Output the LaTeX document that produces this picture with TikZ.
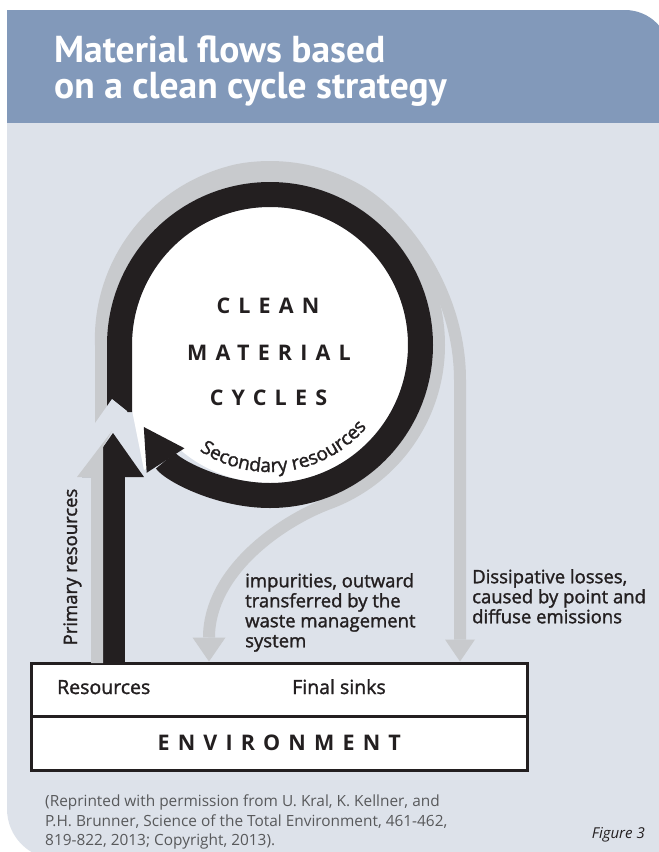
\documentclass[tikz,border=0pt]{standalone}
\usepackage{fontspec}
\setmainfont{Open Sans}
\newfontfamily\headfont{PT Sans}
\newfontfamily\semifont{Open Sans}[FakeBold=1.5]
\usetikzlibrary{arrows.meta}
\usetikzlibrary{decorations.text}
\definecolor{headblue}{RGB}{130,153,186}
\definecolor{panel}{RGB}{221,226,234}
\definecolor{flow}{RGB}{200,202,205}
\definecolor{ink}{RGB}{35,31,32}
\definecolor{cite}{RGB}{88,89,91}
\newcommand{\tracked}[1]{{\addfontfeature{LetterSpace=38}#1}}

\begin{document}
\begin{tikzpicture}[x=1pt,y=-1pt,
    flowtext/.style={font=\semifont\fontsize{18.5}{20}\selectfont,text=ink,inner sep=0pt,align=left},
    boxtext/.style={font=\semifont\fontsize{19.5}{20}\selectfont,text=ink,inner sep=0pt},
    caps/.style={font=\fontsize{21.5}{24}\selectfont\bfseries,text=ink,inner sep=0pt},
    envbox/.style={draw=ink,line width=3pt,fill=white,minimum width=495.5pt,inner sep=0pt},
    grayflow/.style={draw=flow,line width=12pt}]
  \useasboundingbox (0,0) rectangle (659,852);
  \clip (0,0) rectangle (659,852);
  % header and panel
  \fill[headblue] (7,10) -- (625,10) arc[start angle=270,end angle=360,radius=45] -- (670,123) -- (7,123) -- cycle;
  \fill[panel] (7,123) -- (7,809) arc[start angle=180,end angle=90,radius=50] -- (670,859) -- (670,123) -- cycle;
  \node[anchor=base west,inner sep=0pt,align=left,text=white,font=\headfont\bfseries\fontsize{37.5}{36}\selectfont] (title) at (54,98) {Material flows based\\on a clean cycle strategy};

  % environment box
  \node[envbox,minimum height=53pt] (sinks) at (279.25,689.5) {};
  \node[envbox,minimum height=54pt,caps] (env) at (279.25,743) {\tracked{ENVIRONMENT}};
  \node[boxtext,anchor=base west] (res) at (57,694) {Resources};
  \node[boxtext,anchor=base] (fin) at (339,694) {Final sinks};

  % the cycle
  \coordinate (hub) at (270,345);
  \fill[white] (hub) circle[radius=138];
  \fill[white] (131,345) -- (131,405) -- (144,470) -- (200,440) -- (200,345) -- cycle;
  % impurities
  \draw[grayflow,-{Triangle[width=33pt 0 0,length=24pt 0 0,line width=0pt 0 0]}] (101,428) -- (101,345)
    arc[start angle=180,end angle=430,radius=169] .. controls (280,522) and (209,572) .. (209,0 |- sinks.north);
  % dissipative losses
  \draw[grayflow,-{Triangle[width=30pt 0 0,length=22pt 0 0,line width=0pt 0 0]}]
    plot[domain=180:300,samples=60] ({270+(169+9*min(1,(\x-180)/80))*cos(\x)},{345+(169+9*min(1,(\x-180)/80))*sin(\x)})
    .. controls (402,216) and (460,290) .. (460,380) -- (460,0 |- sinks.north);
  % black cycle with secondary resources
  \draw[draw=ink,line width=25pt,-{Triangle[width=45pt 0 0,length=40pt 0 0,line width=0pt 0 0]}] (119.5,412) -- (119.5,345)
    arc[start angle=180,end angle=507,radius=150.5];
  \fill[panel] (86,436) -- (112,399) -- (127,411) .. controls (133,430) and (139,455) .. (143,478) -- (80,478) -- cycle;
  % primary resources
  \draw[draw=ink,line width=23pt,-{Triangle[width=62pt 0 0,length=44pt 0 0,line width=0pt 0 0]}] (113,0 |- sinks.north) -- (113,433);
  \fill[flow] (91,663) -- (91,477) -- (77,477) -- (112,431) -- (103,447) -- (103,663) -- cycle;

  \node[caps,anchor=base] (clean) at (268,313) {\tracked{CLEAN}};
  \node[caps,anchor=base] (material) at (269,360) {\tracked{MATERIAL}};
  \node[caps,anchor=base] (cycles) at (268.5,405) {\tracked{CYCLES}};
  \path[decorate,decoration={text along path,text align=center,text color=ink,
    text={|\semifont\fontsize{19}{19}\selectfont|Secondary resources}}]
    (hub) ++(170:127) arc[start angle=170,end angle=-6,radius=127];

  \node[flowtext,rotate=90,anchor=base] (prim) at (77,567) {Primary resources};
  \node[flowtext,anchor=north west] (imp) at (245,573) {impurities, outward\\transferred by the\\waste management\\system};
  \node[flowtext,anchor=north west] (diss) at (472,569) {Dissipative losses,\\caused by point and\\diffuse emissions};

  \node[anchor=north west,inner sep=0pt,align=left,text=cite,font=\fontsize{15.4}{19.5}\selectfont] (cite) at (45,795)
    {(Reprinted with permission from U. Kral, K. Kellner, and\\P.H. Brunner, Science of the Total Environment, 461-462,\\819-822, 2013; Copyright, 2013).};
  \node[anchor=base east,inner sep=0pt,text=ink,font=\fontsize{15}{15}\selectfont\itshape] (fig) at (645,838) {Figure 3};
\end{tikzpicture}
\end{document}
